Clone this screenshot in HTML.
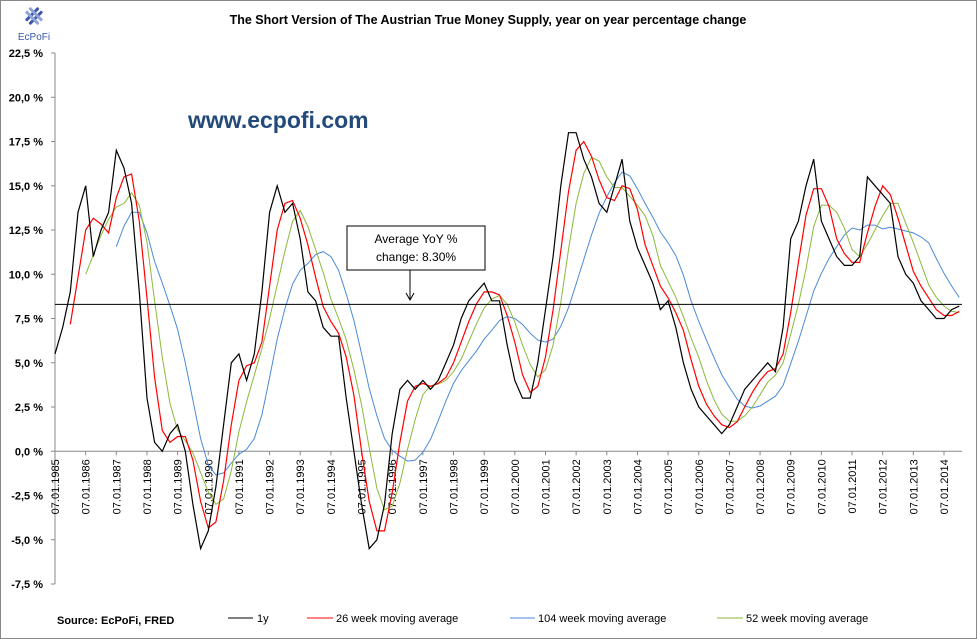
<!DOCTYPE html>
<html><head><meta charset="utf-8"><style>
body{margin:0;background:#fff;}
svg{display:block;font-family:"Liberation Sans",sans-serif;}
</style></head><body>
<svg id="chart" width="977" height="639" viewBox="0 0 977 639">
<rect x="0.5" y="0.5" width="976" height="638" fill="#fff" stroke="#888"/>
<g>
<g transform="translate(34,16) rotate(45)" fill="#3b58a8">
<rect x="-4" y="-9" width="3" height="18" rx="1"/><rect x="1" y="-9" width="3" height="18" rx="1"/>
<rect x="-9" y="-4" width="18" height="3" rx="1" fill="#8fa3d6"/><rect x="-9" y="1" width="18" height="3" rx="1" fill="#8fa3d6"/>
</g>
<text x="34" y="40" font-size="10" fill="#3b58a8" text-anchor="middle">EcPoFi</text>
</g>
<text x="488" y="24" font-size="12.5" font-weight="bold" text-anchor="middle">The Short Version of The Austrian True Money Supply, year on year percentage change</text>
<text x="188" y="128" font-size="23" font-weight="bold" fill="#244a7a">www.ecpofi.com</text>
<g id="yaxis"></g>
<g id="xaxis"></g>
<g id="series"></g>
<g>
<rect x="347" y="226" width="138" height="44" fill="#fff" stroke="#000"/>
<text x="416" y="243" font-size="12" text-anchor="middle">Average YoY %</text>
<text x="416" y="261" font-size="12" text-anchor="middle">change: 8.30%</text>
<line x1="410" y1="270" x2="410" y2="299" stroke="#000"/>
<path d="M406,293 L410,300 L414,293" fill="none" stroke="#000"/>
</g>
<text x="57" y="624" font-size="11" font-weight="bold">Source: EcPoFi,  FRED</text>
<g>
<g><line x1="228" y1="618" x2="253" y2="618" stroke="#000"/><text x="257" y="622" font-size="11">1y</text></g>
<g><line x1="307" y1="618" x2="333" y2="618" stroke="#f00"/><text x="336" y="622" font-size="11">26 week moving average</text></g>
<g><line x1="510" y1="618" x2="535" y2="618" stroke="#4a8ad8"/><text x="538" y="622" font-size="11">104 week moving average</text></g>
<g><line x1="717" y1="618" x2="743" y2="618" stroke="#8db83a"/><text x="746" y="622" font-size="11">52 week moving average</text></g>
</g>
</svg>
<script>
const startYear = 1985;
const step = 0.25;
const yoy = [5.5,7,9,13.5,15,11,12.5,13.5,17,16,14,9,3,0.5,0,1,1.5,0,-3,-5.5,-4.5,-2,1.5,5,5.5,4,5.5,9,13.5,15,13.5,14,12,9,8.5,7,6.5,6.5,3,0,-3,-5.5,-5,-3,1,3.5,4,3.5,4,3.5,4,5,6,7.5,8.5,9,9.5,8.5,8.5,6,4,3,3,5,8,11,15,18,18,16.5,15.5,14,13.5,15,16.5,13,11.5,10.5,9.5,8,8.5,7,5,3.5,2.5,2,1.5,1,1.5,2.5,3.5,4,4.5,5,4.5,7,12,13,15,16.5,13,12,11,10.5,10.5,11,15.5,15,14.5,14,11,10,9.5,8.5,8,7.5,7.5,8,8.2];
const yTicks = [22.5,20,17.5,15,12.5,10,7.5,5,2.5,0,-2.5,-5,-7.5];
const yTickLabels = ["22,5 %","20,0 %","17,5 %","15,0 %","12,5 %","10,0 %","7,5 %","5,0 %","2,5 %","0,0 %","-2,5 %","-5,0 %","-7,5 %"];
const xTickYears = [1985,1986,1987,1988,1989,1990,1991,1992,1993,1994,1995,1996,1997,1998,1999,2000,2001,2002,2003,2004,2005,2006,2007,2008,2009,2010,2011,2012,2013,2014];
const averageValue = 8.3;
const maWindows = [3,5,9];

const NS="http://www.w3.org/2000/svg";
const X0=55,X1=962,Y0=53,Y1=584;
const xs=yr=>55+(yr-1985)*30.655;
const ys=v=>Y0+(22.5-v)*(Y1-Y0)/30;
function mk(tag,attrs,parent){const e=document.createElementNS(NS,tag);for(const k in attrs)e.setAttribute(k,attrs[k]);parent.appendChild(e);return e;}
const ya=document.getElementById('yaxis'),xa=document.getElementById('xaxis'),sg=document.getElementById('series');
mk('line',{x1:X0,y1:Y0,x2:X0,y2:Y1,stroke:'#888'},ya);
yTicks.forEach((v,i)=>{
  mk('line',{x1:X0-4,y1:ys(v),x2:X0,y2:ys(v),stroke:'#888'},ya);
  const t=mk('text',{x:X0-12,y:ys(v)+4,'font-size':11,'font-weight':'bold','text-anchor':'end'},ya);
  t.textContent=yTickLabels[i];
  
  
});
const zy=ys(0);
mk('line',{x1:X0,y1:zy,x2:X1,y2:zy,stroke:'#888'},xa);
xTickYears.forEach(yr=>{
  const x=xs(yr);
  mk('line',{x1:x,y1:zy,x2:x,y2:zy+4,stroke:'#888'},xa);
  const t=mk('text',{transform:`translate(${x+4},${zy+8}) rotate(-90)`,'font-size':11,'text-anchor':'end'},xa);
  t.textContent='07.01.'+yr;
  
  
});
function path(vals,color,name,w){
  let d='';
  vals.forEach((v,i)=>{if(v===null)return;const x=xs(startYear+i*step),y=ys(v);d+=(d?'L':'M')+x.toFixed(1)+','+y.toFixed(1);});
  const p=mk('path',{d:d,fill:'none',stroke:color,'stroke-width':w},sg);
  
  
}
function ma(n){return yoy.map((v,i)=>{if(i<n-1)return null;let s=0;for(let k=0;k<n;k++)s+=yoy[i-k];return s/n;});}
path(ma(maWindows[2]),'#4a8ad8','line-104-week-ma',1);
path(ma(maWindows[1]),'#8db83a','line-52-week-ma',1);
path(ma(maWindows[0]),'#f00','line-26-week-ma',1.2);
path(yoy,'#000','line-1y',1.2);
const av=mk('line',{x1:X0,y1:ys(averageValue),x2:X1,y2:ys(averageValue),stroke:'#000'},sg);


</script>
</body></html>
